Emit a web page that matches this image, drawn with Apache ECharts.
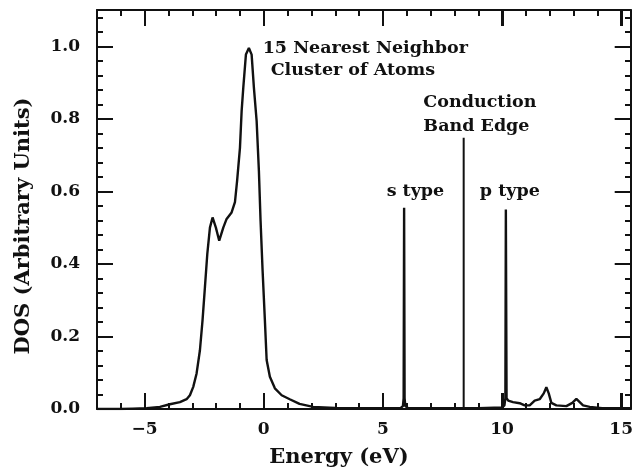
<!DOCTYPE html>
<html>
<head>
<meta charset="utf-8">
<script src="https://cdn.jsdelivr.net/npm/echarts@6/dist/echarts.min.js"></script>
<style>
  html, body { margin: 0; padding: 0; background: #fff; }
  #chart { width: 636px; height: 475px; }
</style>
</head>
<body>
<div id="chart"></div>
<script>
// DOS curve (energy in eV, DOS arbitrary)
const energy = [-7, -6, -5.5, -4.92, -4.36, -3.94, -3.52, -3.24, -3.1, -2.96,
  -2.82, -2.68, -2.57, -2.47, -2.37, -2.26, -2.15, -2.01, -1.87, -1.70,
  -1.56, -1.35, -1.21, -1.12, -1.0, -0.93, -0.86, -0.75, -0.625, -0.51,
  -0.415, -0.30, -0.205, -0.135, -0.05, 0.046, 0.12, 0.256, 0.466, 0.75,
  1.09, 1.5, 2.07, 3.0, 4.0, 5.0, 5.75, 5.84, 5.87, 5.89,
  5.91, 5.94, 6.05, 7.0, 8.0, 9.0, 10.0, 10.1, 10.14, 10.16,
  10.19, 10.26, 10.46, 10.74, 10.95, 11.16, 11.37, 11.58, 11.75, 11.86,
  11.96, 12.07, 12.28, 12.7, 12.95, 13.12, 13.26, 13.4, 13.68, 14.2, 15.4]
const dos = [0, 0, 0.001, 0.002, 0.006, 0.013, 0.019, 0.027, 0.038, 0.061,
  0.098, 0.162, 0.245, 0.336, 0.428, 0.50, 0.528, 0.50, 0.464, 0.50,
  0.524, 0.542, 0.57, 0.629, 0.72, 0.821, 0.886, 0.977, 0.995, 0.977,
  0.886, 0.794, 0.657, 0.519, 0.382, 0.245, 0.135, 0.089, 0.057, 0.038,
  0.027, 0.014, 0.006, 0.003, 0.002, 0.002, 0.003, 0.008, 0.03, 0.555,
  0.03, 0.008, 0.003, 0.002, 0.002, 0.002, 0.004, 0.01, 0.03, 0.55,
  0.03, 0.023, 0.019, 0.016, 0.01, 0.01, 0.023, 0.027, 0.043, 0.06,
  0.043, 0.017, 0.01, 0.008, 0.017, 0.028, 0.019, 0.01, 0.006, 0.002, 0.002]

// conduction band edge marker
const bandEdgeX = 8.39
const bandEdgeTop = 0.748

// axis ticks
const xMajor = [-5, 0, 5, 10, 15]
const xMinor = [-6, -4, -3, -2, -1, 1, 2, 3, 4, 6, 7, 8, 9, 11, 12, 13, 14]
const yMajor = [0, 0.2, 0.4, 0.6, 0.8, 1.0]
const yMinor = [0.04, 0.08, 0.12, 0.16, 0.24, 0.28, 0.32, 0.36, 0.44, 0.48, 0.52, 0.56,
  0.64, 0.68, 0.72, 0.76, 0.84, 0.88, 0.92, 0.96, 1.04, 1.08]

// annotations (left edge, vertical middle)
const noteText = ['15 Nearest Neighbor', 'Cluster of Atoms', 'Conduction', 'Band Edge', 's type', 'p type']
const noteX = [-0.05, 0.285, 6.69, 6.69, 5.15, 9.06]
const noteY = [0.993, 0.934, 0.845, 0.78, 0.599, 0.599]

const FONT = 'DejaVu Serif'
const INK = '#111'
const X_MIN = -7
const X_MAX = 15.4
const Y_MAX = 1.1
const W = 636
const H = 475
const gridBox = { left: 97, right: 5, top: 10, bottom: 66 }

const chart = echarts.init(document.getElementById('chart'))

// showLine: frame line + labels live on grid 0, tick-only overlays on grids 1 and 2
function xAxisOf(grid, pos, ticks, len, labels, showLine) {
  return {
    type: 'value', gridIndex: grid, position: pos, min: X_MIN, max: X_MAX,
    axisLine: { show: showLine, onZero: false, lineStyle: { color: INK, width: 2 } },
    axisTick: { show: true, inside: true, length: len, customValues: ticks, lineStyle: { color: INK, width: 2 } },
    axisLabel: labels ? {
      show: true, customValues: ticks, margin: 12, color: INK,
      fontFamily: FONT, fontWeight: 'bold', fontSize: 17,
      formatter: (v) => (v < 0 ? '\u2212' + Math.abs(v) : String(v))
    } : { show: false },
    splitLine: { show: false }
  }
}

function yAxisOf(grid, pos, ticks, len, labels, showLine) {
  return {
    type: 'value', gridIndex: grid, position: pos, min: 0, max: Y_MAX,
    axisLine: { show: showLine, onZero: false, lineStyle: { color: INK, width: 2 } },
    axisTick: { show: true, inside: true, length: len, customValues: ticks, lineStyle: { color: INK, width: 2 } },
    axisLabel: labels ? {
      show: true, customValues: ticks, margin: 17, color: INK,
      fontFamily: FONT, fontWeight: 'bold', fontSize: 17,
      formatter: (v) => v.toFixed(1)
    } : { show: false },
    splitLine: { show: false }
  }
}

// text placed at the same linear mapping the grid uses
const plotW = W - gridBox.left - gridBox.right
const plotH = H - gridBox.top - gridBox.bottom
const toPx = (x, y) => [
  gridBox.left + (x - X_MIN) / (X_MAX - X_MIN) * plotW,
  gridBox.top + (1 - y / Y_MAX) * plotH
]

const graphics = noteText.map((t, i) => {
  const p = toPx(noteX[i], noteY[i])
  return {
    type: 'text', x: p[0], y: p[1],
    style: {
      text: t, fill: INK, font: 'bold 17.5px "' + FONT + '"',
      textAlign: 'left', textVerticalAlign: 'middle'
    }
  }
})
graphics.push({
  type: 'text', x: 339, y: 458,
  style: {
    text: 'Energy (eV)', fill: INK, font: 'bold 21px "' + FONT + '"',
    textAlign: 'center', textVerticalAlign: 'middle'
  }
})
graphics.push({
  type: 'text', x: 24, y: 226, rotation: Math.PI / 2,
  style: {
    text: 'DOS (Arbitrary Units)', fill: INK, font: 'bold 21px "' + FONT + '"',
    textAlign: 'center', textVerticalAlign: 'middle'
  }
})

const option = {
  animation: false,
  grid: [Object.assign({}, gridBox), Object.assign({}, gridBox), Object.assign({}, gridBox)],
  xAxis: [
    xAxisOf(0, 'bottom', xMajor, 16, true, true),
    xAxisOf(0, 'top', xMajor, 16, false, true),
    xAxisOf(1, 'bottom', xMinor, 6, false, false),
    xAxisOf(1, 'top', xMinor, 6, false, false),
    xAxisOf(2, 'bottom', xMajor, 16, false, false),
    xAxisOf(2, 'top', xMajor, 16, false, false)
  ],
  yAxis: [
    yAxisOf(0, 'left', yMajor, 16, true, true),
    yAxisOf(0, 'right', yMajor, 16, false, true),
    yAxisOf(1, 'left', yMinor, 6, false, false),
    yAxisOf(1, 'right', yMinor, 6, false, false),
    yAxisOf(2, 'left', yMajor, 16, false, false),
    yAxisOf(2, 'right', yMajor, 16, false, false)
  ],
  graphic: graphics,
  series: [
    {
      name: 'DOS',
      type: 'line',
      xAxisIndex: 0,
      yAxisIndex: 0,
      data: energy.map((e, i) => [e, dos[i]]),
      showSymbol: false,
      lineStyle: { color: INK, width: 2.4 },
      z: 5
    },
    {
      name: 'Band Edge',
      type: 'line',
      xAxisIndex: 0,
      yAxisIndex: 0,
      data: [[bandEdgeX, 0], [bandEdgeX, bandEdgeTop]],
      showSymbol: false,
      lineStyle: { color: INK, width: 2 }
    }
  ]
}

chart.setOption(option)
</script>
</body>
</html>
